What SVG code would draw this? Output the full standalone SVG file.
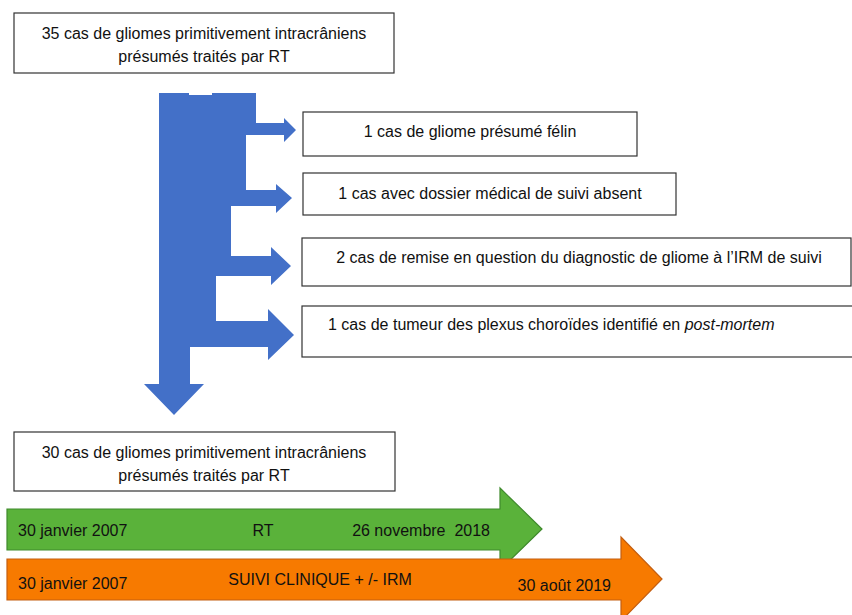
<svg xmlns="http://www.w3.org/2000/svg" width="852" height="615" viewBox="0 0 852 615">
<style>
.box{fill:#fff;stroke:#333;stroke-width:1.2}
text{font-family:"Liberation Sans",Arial,sans-serif;font-size:16px;fill:#111}
.c{text-anchor:middle}
.e{text-anchor:end}
</style>
<rect width="852" height="615" fill="#fff"/>
<g id="connectors">
<polygon fill="#4370C8" points="159,93 189,93 189,95 212,95 212,93 256,93 256,123 284,123 284,118 296,130 284,142 284,135 246,135 246,190 276,190 276,184 292,198 276,213 276,206 231,206 231,256 271,256 271,247 291,266 271,285 271,276 216,276 216,321 268,321 268,309 294,335 268,360 268,347 190,347 190,384 204,384 174,415 144,384 159,384"/>
</g>
<g id="start">
<rect class="box" x="14" y="13" width="380" height="60"/>
<text class="c" x="204" y="39">35 cas de gliomes primitivement intracrâniens</text>
<text class="c" x="204" y="62">présumés traités par RT</text>
</g>
<g id="excl1">
<rect class="box" x="303" y="112" width="334" height="44"/>
<text class="c" x="470" y="137">1 cas de gliome présumé félin</text>
</g>
<g id="excl2">
<rect class="box" x="303" y="173" width="373" height="42"/>
<text class="c" x="490" y="199">1 cas avec dossier médical de suivi absent</text>
</g>
<g id="excl3">
<rect class="box" x="302" y="238" width="549" height="48"/>
<text class="c" x="579" y="263">2 cas de remise en question du diagnostic de gliome à l’IRM de suivi</text>
</g>
<g id="excl4">
<rect class="box" x="302" y="306" width="552" height="51"/>
<text x="328" y="330">1 cas de tumeur des plexus choroïdes identifié en <tspan font-style="italic">post-mortem</tspan></text>
</g>
<g id="end">
<rect class="box" x="14" y="432" width="381" height="59"/>
<text class="c" x="204" y="458">30 cas de gliomes primitivement intracrâniens</text>
<text class="c" x="204" y="481">présumés traités par RT</text>
</g>
<g id="rt">
<polygon fill="#5AB23A" stroke="#3F8A2C" stroke-width="1.2" points="7,509 500,509 500,488 542,529 500,570 500,550 7,550"/>
<text x="18" y="536">30 janvier 2007</text>
<text class="c" x="263" y="536">RT</text>
<text class="e" x="490" y="536" xml:space="preserve">26 novembre  2018</text>
</g>
<g id="suivi">
<polygon fill="#F77A00" stroke="#C45E10" stroke-width="1.2" points="7,559 621,559 621,537 662,579 621,621 621,600 7,600"/>
<text x="18" y="589">30 janvier 2007</text>
<text class="c" x="320" y="585">SUIVI CLINIQUE + /- IRM</text>
<text class="e" x="611" y="591">30 août 2019</text>
</g>
</svg>
